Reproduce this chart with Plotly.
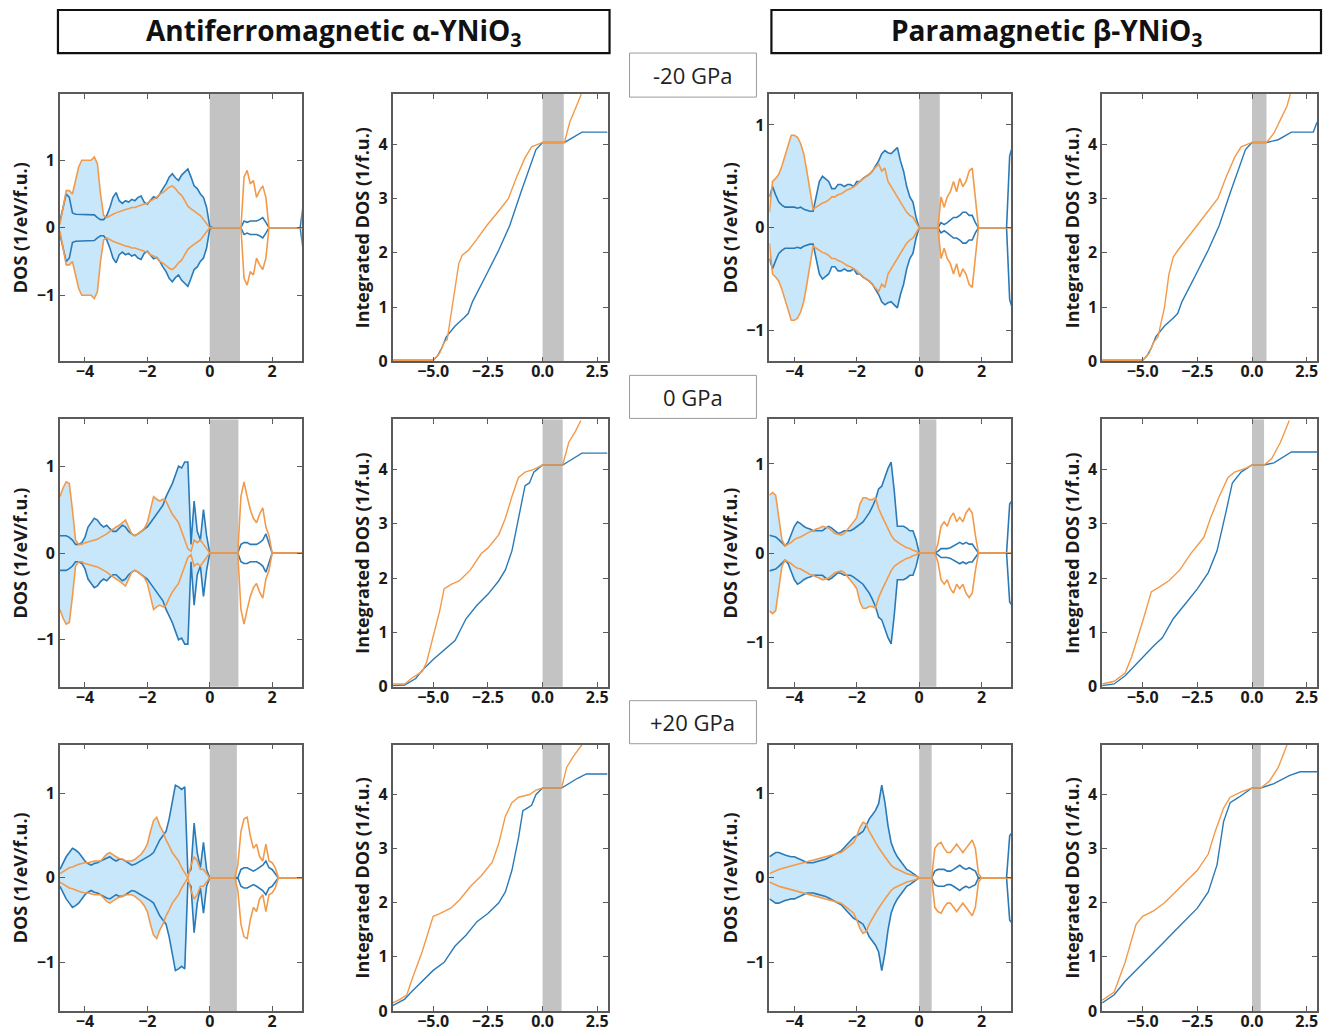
import plotly.graph_objects as go
from plotly.subplots import make_subplots

# ---------------- data ----------------
E = [-4.8,-4.7,-4.6,-4.5,-4.4,-4.3,-4.2,-4.1,-4.0,-3.9,
     -3.8,-3.7,-3.6,-3.5,-3.4,-3.3,-3.2,-3.1,-3.0,-2.9,
     -2.8,-2.7,-2.6,-2.5,-2.4,-2.3,-2.2,-2.1,-2.0,-1.9,
     -1.8,-1.7,-1.6,-1.5,-1.4,-1.3,-1.2,-1.1,-1.0,-0.9,
     -0.8,-0.7,-0.6,-0.5,-0.4,-0.3,-0.2,-0.1,0.0,0.1,
     0.2,0.3,0.4,0.5,0.6,0.7,0.8,0.9,1.0,1.1,
     1.2,1.3,1.4,1.5,1.6,1.7,1.8,1.9,2.0,2.1,
     2.2,2.3,2.4,2.5,2.6,2.7,2.8,2.9,3.0]

AFM_M20_BLUE = [0.10,0.30,0.50,0.45,0.22,0.20,0.20,0.20,0.20,0.20,
                0.20,0.19,0.15,0.12,0.12,0.18,0.30,0.45,0.52,0.40,
                0.36,0.40,0.38,0.42,0.40,0.45,0.47,0.38,0.35,0.40,
                0.46,0.44,0.50,0.58,0.65,0.75,0.80,0.74,0.70,0.78,
                0.82,0.87,0.75,0.62,0.58,0.50,0.45,0.30,0.02,0,
                0,0,0,0,0,0,0,0,0,0.10,
                0.08,0.10,0.10,0.10,0.12,0.15,0.08,0,0,0,
                0,0,0,0,0,0,0,0,0.35]
AFM_M20_ORANGE = [0.05,0.30,0.55,0.55,0.50,0.70,0.90,1.00,1.00,1.00,
                  1.00,1.05,0.95,0.50,0.18,0.15,0.18,0.20,0.22,0.24,
                  0.25,0.27,0.28,0.30,0.30,0.32,0.33,0.35,0.36,0.40,
                  0.42,0.45,0.50,0.52,0.56,0.60,0.62,0.58,0.52,0.48,
                  0.40,0.32,0.28,0.25,0.22,0.18,0.12,0.06,0,0,
                  0,0,0,0,0,0,0,0,0,0.75,
                  0.85,0.65,0.70,0.45,0.55,0.62,0.45,0,0,0,
                  0,0,0,0,0,0,0,0,0]

AFM_0_BLUE = [0.20,0.20,0.20,0.18,0.15,0.10,0.10,0.12,0.18,0.30,
              0.35,0.40,0.38,0.33,0.30,0.32,0.28,0.25,0.25,0.28,
              0.32,0.30,0.25,0.22,0.20,0.22,0.25,0.28,0.30,0.35,
              0.40,0.45,0.50,0.55,0.65,0.72,0.80,0.90,1.00,0.98,
              1.05,1.05,0.10,0.60,0.25,0.15,0.50,0.20,0,0,
              0,0,0,0,0,0,0,0,0.10,0.12,
              0.12,0.10,0.10,0.10,0.12,0.15,0.22,0.10,0,0,
              0,0,0,0,0,0,0,0,0]
AFM_0_ORANGE = [0.65,0.75,0.82,0.80,0.50,0.15,0.10,0.10,0.12,0.13,
                0.14,0.15,0.16,0.18,0.20,0.22,0.25,0.28,0.30,0.32,
                0.35,0.38,0.30,0.22,0.20,0.22,0.25,0.28,0.35,0.50,
                0.65,0.62,0.60,0.62,0.60,0.52,0.45,0.40,0.35,0.25,
                0.15,0.05,0.02,0.15,0.12,0.15,0.10,0.05,0,0,
                0,0,0,0,0,0,0,0,0.65,0.82,
                0.65,0.50,0.40,0.35,0.45,0.52,0.30,0.20,0,0,
                0,0,0,0,0,0,0,0,0]

AFM_P20_BLUE = [0.10,0.18,0.25,0.30,0.35,0.33,0.30,0.25,0.20,0.17,
                0.15,0.17,0.18,0.20,0.22,0.24,0.25,0.22,0.20,0.22,
                0.22,0.20,0.17,0.15,0.16,0.18,0.20,0.23,0.25,0.27,
                0.30,0.38,0.45,0.50,0.55,0.70,0.90,1.10,1.08,1.05,
                1.08,0.05,0.10,0.65,0.30,0.12,0.42,0.10,0,0,
                0,0,0,0,0,0,0,0,0.10,0.12,
                0.12,0.10,0.08,0.10,0.12,0.15,0.20,0.12,0.10,0.05,
                0,0,0,0,0,0,0,0,0]
AFM_P20_ORANGE = [0.05,0.07,0.10,0.12,0.13,0.15,0.16,0.17,0.18,0.18,
                  0.19,0.20,0.20,0.20,0.24,0.28,0.30,0.27,0.25,0.23,
                  0.22,0.20,0.20,0.20,0.22,0.25,0.28,0.33,0.40,0.55,
                  0.68,0.72,0.62,0.55,0.45,0.38,0.30,0.25,0.20,0.12,
                  0.06,0,0.15,0.25,0.20,0.10,0.10,0.05,0,0,
                  0,0,0,0,0,0,0,0.15,0.55,0.70,
                  0.72,0.50,0.35,0.40,0.25,0.20,0.40,0.20,0.18,0.12,
                  0,0,0,0,0,0,0,0,0]

PM_M20_BLUE = [0.30,0.40,0.32,0.25,0.22,0.20,0.20,0.20,0.20,0.19,
               0.20,0.18,0.17,0.16,0.16,0.30,0.45,0.50,0.47,0.45,
               0.38,0.38,0.42,0.42,0.40,0.42,0.42,0.40,0.45,0.45,
               0.48,0.50,0.52,0.55,0.60,0.65,0.72,0.75,0.73,0.72,
               0.75,0.78,0.65,0.55,0.40,0.30,0.25,0.10,0,0,
               0,0,0,0,0,0.05,0.03,0.05,0.08,0.10,
               0.10,0.12,0.15,0.15,0.12,0.12,0.05,0,0,0,
               0,0,0,0,0,0,0,0.70,0.80]
PM_M20_ORANGE = [0.15,0.45,0.48,0.52,0.60,0.70,0.80,0.90,0.90,0.88,
                 0.82,0.72,0.55,0.35,0.18,0.20,0.22,0.24,0.25,0.27,
                 0.30,0.30,0.32,0.33,0.35,0.37,0.38,0.40,0.42,0.45,
                 0.48,0.50,0.52,0.55,0.58,0.62,0.55,0.58,0.45,0.40,
                 0.35,0.30,0.25,0.20,0.15,0.12,0.10,0.05,0,0,
                 0,0,0,0,0,0.30,0.20,0.30,0.35,0.45,
                 0.35,0.48,0.40,0.45,0.55,0.58,0.30,0,0,0,
                 0,0,0,0,0,0,0,0,0]

PM_0_BLUE = [0.20,0.19,0.18,0.15,0.12,0.08,0.12,0.20,0.30,0.35,
             0.33,0.30,0.28,0.27,0.25,0.25,0.25,0.25,0.28,0.30,
             0.28,0.25,0.22,0.23,0.25,0.25,0.25,0.27,0.30,0.32,
             0.35,0.40,0.45,0.52,0.60,0.72,0.75,0.85,0.95,1.02,
             0.70,0.30,0.30,0.30,0.28,0.25,0.25,0.15,0,0,
             0,0,0,0,0.02,0.05,0.05,0.05,0.06,0.08,
             0.10,0.12,0.10,0.12,0.10,0.10,0.05,0,0,0,
             0,0,0,0,0,0,0,0.55,0.60]
PM_0_ORANGE = [0.65,0.68,0.65,0.40,0.15,0.08,0.10,0.12,0.15,0.17,
               0.18,0.20,0.22,0.24,0.25,0.27,0.28,0.30,0.29,0.28,
               0.25,0.22,0.21,0.20,0.22,0.26,0.30,0.35,0.40,0.55,
               0.62,0.62,0.60,0.60,0.62,0.50,0.42,0.35,0.28,0.20,
               0.15,0.12,0.10,0.08,0.06,0.05,0.03,0.02,0,0,
               0,0,0,0,0.10,0.30,0.35,0.30,0.40,0.45,
               0.35,0.40,0.35,0.45,0.50,0.45,0.20,0,0,0,
               0,0,0,0,0,0,0,0,0]

PM_P20_BLUE = [0.25,0.28,0.30,0.30,0.28,0.27,0.26,0.25,0.25,0.23,
               0.22,0.20,0.18,0.18,0.18,0.19,0.20,0.21,0.22,0.24,
               0.26,0.28,0.30,0.32,0.36,0.40,0.45,0.48,0.50,0.52,
               0.55,0.62,0.70,0.75,0.80,0.88,1.10,0.90,0.62,0.42,
               0.32,0.25,0.20,0.15,0.10,0.08,0.05,0.03,0,0,
               0,0,0,0.08,0.10,0.10,0.10,0.08,0.08,0.10,
               0.12,0.15,0.12,0.10,0.12,0.10,0.08,0,0,0,
               0,0,0,0,0,0,0,0.50,0.55]
PM_P20_ORANGE = [0.05,0.07,0.08,0.10,0.11,0.12,0.13,0.14,0.15,0.16,
                 0.17,0.18,0.19,0.20,0.21,0.22,0.23,0.24,0.25,0.26,
                 0.27,0.28,0.29,0.30,0.33,0.36,0.40,0.42,0.50,0.60,
                 0.66,0.64,0.55,0.48,0.42,0.36,0.30,0.25,0.20,0.15,
                 0.12,0.10,0.08,0.06,0.05,0.04,0.03,0.02,0,0,
                 0,0,0,0.35,0.40,0.42,0.35,0.30,0.30,0.35,
                 0.40,0.35,0.30,0.35,0.40,0.45,0.35,0.05,0,0,
                 0,0,0,0,0,0,0,0,0]

# band gaps (eV) for -20, 0, +20 GPa
GAP_AFM = [0.97, 0.92, 0.87]
GAP_PM = [0.66, 0.55, 0.40]

# integrated DOS
IAFM_M20_BLUE_X = [-6.85,-5.0,-4.8,-4.6,-4.4,-4.0,-3.6,-3.4,-3.2,-2.8,-2.5,-2.0,-1.5,-1.0,-0.6,-0.3,0.0,1.0,1.3,1.8,2.97]
IAFM_M20_BLUE_Y = [0.02,0.02,0.10,0.25,0.45,0.65,0.80,0.88,1.10,1.40,1.65,2.05,2.50,3.10,3.55,3.90,4.03,4.03,4.10,4.22,4.22]
IAFM_M20_ORANGE_X = [-6.85,-5.0,-4.7,-4.5,-4.36,-4.14,-3.83,-3.68,-3.38,-3.0,-2.55,-1.94,-1.56,-1.18,-0.8,-0.5,0.0,1.0,1.24,1.55,1.77]
IAFM_M20_ORANGE_Y = [0.02,0.02,0.15,0.35,0.40,1.00,1.80,1.95,2.05,2.25,2.50,2.80,3.00,3.40,3.75,3.95,4.03,4.03,4.40,4.70,4.92]

IAFM_0_BLUE_X = [-6.85,-6.3,-5.8,-5.5,-5.0,-4.5,-4.0,-3.5,-3.0,-2.5,-2.0,-1.7,-1.4,-1.1,-0.8,-0.6,-0.4,0.0,0.92,1.2,1.8,2.97]
IAFM_0_BLUE_Y = [0.02,0.03,0.15,0.30,0.50,0.68,0.85,1.25,1.50,1.70,1.95,2.15,2.50,3.10,3.70,3.75,3.95,4.08,4.08,4.15,4.30,4.30]
IAFM_0_ORANGE_X = [-6.85,-6.3,-6.0,-5.5,-5.3,-5.0,-4.7,-4.5,-4.2,-3.8,-3.3,-2.8,-2.5,-2.0,-1.7,-1.4,-1.1,-0.8,-0.4,0.0,0.92,1.2,1.5,1.75]
IAFM_0_ORANGE_Y = [0.05,0.05,0.15,0.28,0.45,0.90,1.40,1.80,1.88,1.95,2.15,2.45,2.55,2.80,3.10,3.50,3.85,3.95,4.00,4.08,4.08,4.50,4.70,4.90]

IAFM_P20_BLUE_X = [-6.85,-6.3,-6.0,-5.5,-5.0,-4.5,-4.0,-3.5,-3.0,-2.5,-2.0,-1.7,-1.4,-1.1,-0.9,-0.7,-0.5,-0.3,0.0,0.87,1.2,1.6,2.0,2.97]
IAFM_P20_BLUE_Y = [0.10,0.22,0.35,0.55,0.75,0.90,1.20,1.40,1.65,1.80,2.00,2.20,2.60,3.20,3.70,3.75,3.80,4.00,4.12,4.12,4.20,4.30,4.38,4.38]
IAFM_P20_ORANGE_X = [-6.85,-6.5,-6.2,-6.0,-5.5,-5.2,-5.0,-4.7,-4.2,-3.8,-3.3,-2.8,-2.3,-2.0,-1.7,-1.4,-1.1,-0.6,-0.3,0.0,0.87,1.1,1.4,1.8]
IAFM_P20_ORANGE_Y = [0.15,0.22,0.30,0.55,1.10,1.50,1.75,1.80,1.90,2.05,2.30,2.50,2.75,3.10,3.60,3.85,3.95,4.00,4.08,4.12,4.12,4.50,4.70,4.92]

IPM_M20_BLUE_X = [-6.85,-5.0,-4.8,-4.6,-4.4,-4.0,-3.6,-3.4,-3.2,-2.8,-2.5,-2.0,-1.5,-1.0,-0.6,-0.3,0.0,0.66,1.2,1.8,2.8,2.97]
IPM_M20_BLUE_Y = [0.02,0.02,0.10,0.25,0.45,0.65,0.80,0.88,1.10,1.40,1.65,2.05,2.50,3.10,3.55,3.90,4.03,4.03,4.08,4.22,4.22,4.40]
IPM_M20_ORANGE_X = [-6.85,-5.0,-4.7,-4.5,-4.3,-4.0,-3.8,-3.6,-3.38,-3.0,-2.55,-1.94,-1.56,-1.18,-0.8,-0.5,0.0,0.66,1.0,1.3,1.6,1.75]
IPM_M20_ORANGE_Y = [0.02,0.02,0.15,0.35,0.45,1.00,1.60,1.92,2.05,2.25,2.50,2.80,3.00,3.40,3.75,3.95,4.03,4.03,4.20,4.45,4.70,4.92]

IPM_0_BLUE_X = [-6.85,-6.3,-5.8,-5.0,-4.5,-4.1,-3.6,-3.0,-2.5,-2.0,-1.6,-1.2,-0.9,-0.5,0.0,0.55,1.0,1.8,2.97]
IPM_0_BLUE_Y = [0.02,0.05,0.20,0.55,0.75,0.90,1.25,1.55,1.80,2.10,2.50,3.20,3.75,3.95,4.08,4.08,4.12,4.32,4.32]
IPM_0_ORANGE_X = [-6.85,-6.3,-5.8,-5.5,-5.0,-4.6,-4.3,-3.8,-3.3,-2.8,-2.2,-1.9,-1.5,-1.1,-0.8,-0.3,0.0,0.55,0.9,1.3,1.7]
IPM_0_ORANGE_Y = [0.05,0.10,0.25,0.55,1.20,1.75,1.82,1.95,2.15,2.45,2.75,3.10,3.50,3.85,3.95,4.02,4.08,4.08,4.20,4.50,4.90]

IPM_P20_BLUE_X = [-6.85,-6.3,-5.8,-5.3,-4.8,-4.2,-3.6,-3.0,-2.5,-2.0,-1.6,-1.3,-1.0,-0.6,0.0,0.4,1.0,1.7,2.2,2.97]
IPM_P20_BLUE_Y = [0.15,0.30,0.55,0.75,0.95,1.20,1.45,1.70,1.90,2.20,2.70,3.50,3.85,3.95,4.12,4.12,4.20,4.35,4.42,4.42]
IPM_P20_ORANGE_X = [-6.85,-6.3,-5.8,-5.3,-5.0,-4.5,-4.0,-3.5,-3.0,-2.5,-2.0,-1.7,-1.3,-1.0,-0.5,0.0,0.4,0.8,1.2,1.6]
IPM_P20_ORANGE_Y = [0.20,0.35,0.90,1.60,1.75,1.85,2.00,2.20,2.40,2.60,2.90,3.30,3.75,3.95,4.05,4.12,4.12,4.25,4.50,4.92]

PRESSURES = ["-20 GPa", "0 GPa", "+20 GPa"]
PHASE_TITLES = ["Antiferromagnetic \u03b1-YNiO<sub>3</sub>", "Paramagnetic \u03b2-YNiO<sub>3</sub>"]
DOS_YRANGE_AFM = [1.98, 1.54, 1.58]
DOS_YRANGE_PM = [1.30, 1.50, 1.58]

# --------------- styling / layout ---------------
# Layout positions are given in reference pixels on a 1325 x 1030 canvas;
# the figure itself is made to fill the browser viewport.
REF_W, REF_H = 1325, 1030
W, H = 1325, 1042
BLUE = "#2a7ab8"
ORANGE = "#f39a4a"
FILL = "#c8e7fa"
BAND = "#c3c3c3"
AXC = "#5b5b5b"
FONT = "Open Sans"

COL_PX = [(60, 302), (393, 608), (770, 1012), (1103, 1318)]
ROW_PX = [(94, 361), (419, 686), (744, 1010)]


def px(x):
    return x / REF_W


def py(y):
    return 1 - y / REF_H


fig = make_subplots(rows=3, cols=4)

dos_sets = [
    [(AFM_M20_BLUE, AFM_M20_ORANGE), (AFM_0_BLUE, AFM_0_ORANGE), (AFM_P20_BLUE, AFM_P20_ORANGE)],
    [(PM_M20_BLUE, PM_M20_ORANGE), (PM_0_BLUE, PM_0_ORANGE), (PM_P20_BLUE, PM_P20_ORANGE)],
]
idos_sets = [
    [(IAFM_M20_BLUE_X, IAFM_M20_BLUE_Y, IAFM_M20_ORANGE_X, IAFM_M20_ORANGE_Y),
     (IAFM_0_BLUE_X, IAFM_0_BLUE_Y, IAFM_0_ORANGE_X, IAFM_0_ORANGE_Y),
     (IAFM_P20_BLUE_X, IAFM_P20_BLUE_Y, IAFM_P20_ORANGE_X, IAFM_P20_ORANGE_Y)],
    [(IPM_M20_BLUE_X, IPM_M20_BLUE_Y, IPM_M20_ORANGE_X, IPM_M20_ORANGE_Y),
     (IPM_0_BLUE_X, IPM_0_BLUE_Y, IPM_0_ORANGE_X, IPM_0_ORANGE_Y),
     (IPM_P20_BLUE_X, IPM_P20_BLUE_Y, IPM_P20_ORANGE_X, IPM_P20_ORANGE_Y)],
]
gaps = [GAP_AFM, GAP_PM]
yr = [DOS_YRANGE_AFM, DOS_YRANGE_PM]

tickfont = dict(family=FONT, size=16, color="#1a1a1a", weight=700)
titlefont = dict(family=FONT, size=18, color="#1a1a1a", weight=700)
base_axis = dict(showline=True, linecolor=AXC, linewidth=1.5, mirror="ticks",
                 ticks="inside", ticklen=5, tickwidth=1.3, tickcolor=AXC,
                 showgrid=False, zeroline=False, tickfont=tickfont)

shapes = []
nval = E.index(0.0) + 1

for phase in range(2):
    for r in range(3):
        blue, orange = dos_sets[phase][r]
        gap = gaps[phase][r]
        c_dos = phase * 2 + 1
        c_int = phase * 2 + 2
        # DOS panel: filled occupied states, then both spin channels mirrored
        ev = E[:nval]
        env = [max(b, o) for b, o in zip(blue[:nval], orange[:nval])]
        fig.add_trace(go.Scatter(x=ev, y=[-v for v in env], mode="lines",
                                 line=dict(width=0), showlegend=False, hoverinfo="skip"),
                      row=r + 1, col=c_dos)
        fig.add_trace(go.Scatter(x=ev, y=env, mode="lines", line=dict(width=0),
                                 fill="tonexty", fillcolor=FILL, showlegend=False,
                                 hoverinfo="skip"), row=r + 1, col=c_dos)
        for s in (1, -1):
            fig.add_trace(go.Scatter(x=E, y=[s * v for v in blue], mode="lines",
                                     line=dict(color=BLUE, width=1.6), showlegend=False),
                          row=r + 1, col=c_dos)
        for s in (1, -1):
            fig.add_trace(go.Scatter(x=E, y=[s * v for v in orange], mode="lines",
                                     line=dict(color=ORANGE, width=1.6), showlegend=False),
                          row=r + 1, col=c_dos)
        # integrated DOS panel
        bx, by, ox, oy = idos_sets[phase][r]
        fig.add_trace(go.Scatter(x=bx, y=by, mode="lines",
                                 line=dict(color=BLUE, width=1.4), showlegend=False),
                      row=r + 1, col=c_int)
        fig.add_trace(go.Scatter(x=ox, y=oy, mode="lines",
                                 line=dict(color=ORANGE, width=1.4), showlegend=False),
                      row=r + 1, col=c_int)

        for c in (c_dos, c_int):
            n = r * 4 + c
            sfx = "" if n == 1 else str(n)
            shapes.append(dict(type="rect", xref="x" + sfx, yref="y" + sfx + " domain",
                               x0=0, x1=gap, y0=0, y1=1, fillcolor=BAND,
                               line=dict(width=0), layer="below"))
            xd = COL_PX[c - 1]
            yd = ROW_PX[r]
            xa = dict(base_axis, domain=[px(xd[0]), px(xd[1])], ticklabelstandoff=-5)
            ya = dict(base_axis, domain=[py(yd[1]), py(yd[0])])
            if c == c_dos:
                xa.update(range=[-4.8, 2.95], tickvals=[-4, -2, 0, 2])
                yy = yr[phase][r]
                ya.update(range=[-yy, yy], tickvals=[-1, 0, 1],
                          title=dict(text="DOS (1/eV/f.u.)", font=titlefont, standoff=4))
            else:
                xa.update(range=[-6.85, 2.97], tickvals=[-5, -2.5, 0, 2.5], tickformat=".1f")
                ya.update(range=[0, 4.92], tickvals=[0, 1, 2, 3, 4],
                          title=dict(text="Integrated DOS (1/f.u.)", font=titlefont, standoff=4))
            fig.layout["xaxis" + sfx].update(xa)
            fig.layout["yaxis" + sfx].update(ya)

annotations = []
# phase header boxes
for (x0, x1), txt in zip([(58, 610), (772, 1322)], PHASE_TITLES):
    shapes.append(dict(type="rect", xref="paper", yref="paper", x0=px(x0), x1=px(x1),
                       y0=py(53), y1=py(10), line=dict(color="#111", width=2.2),
                       fillcolor="white"))
    annotations.append(dict(x=px((x0 + x1) / 2), y=py(31.5), xref="paper", yref="paper",
                            text=txt, showarrow=False, xanchor="center", yanchor="middle",
                            font=dict(family=FONT, size=28, color="#111", weight=700)))
# pressure boxes
for (y0, y1), txt in zip([(53, 97), (375, 418), (700, 743)], PRESSURES):
    shapes.append(dict(type="rect", xref="paper", yref="paper", x0=px(630), x1=px(757),
                       y0=py(y1), y1=py(y0), line=dict(color="#9a9a9a", width=1),
                       fillcolor="white"))
    annotations.append(dict(x=px(693.5), y=py((y0 + y1) / 2), xref="paper", yref="paper",
                            text=txt, showarrow=False, xanchor="center", yanchor="middle",
                            font=dict(family=FONT, size=22, color="#222")))

fig.update_layout(width=W, height=H, margin=dict(l=0, r=0, t=0, b=0),
                  paper_bgcolor="white", plot_bgcolor="white",
                  shapes=shapes, annotations=annotations, showlegend=False)

# remove the default page margin so the figure fills the browser window exactly
fig.write_html("out.html",
               config=dict(displayModeBar=False),
               post_script="document.body.style.margin='0';"
                           "document.body.style.overflow='hidden';")
